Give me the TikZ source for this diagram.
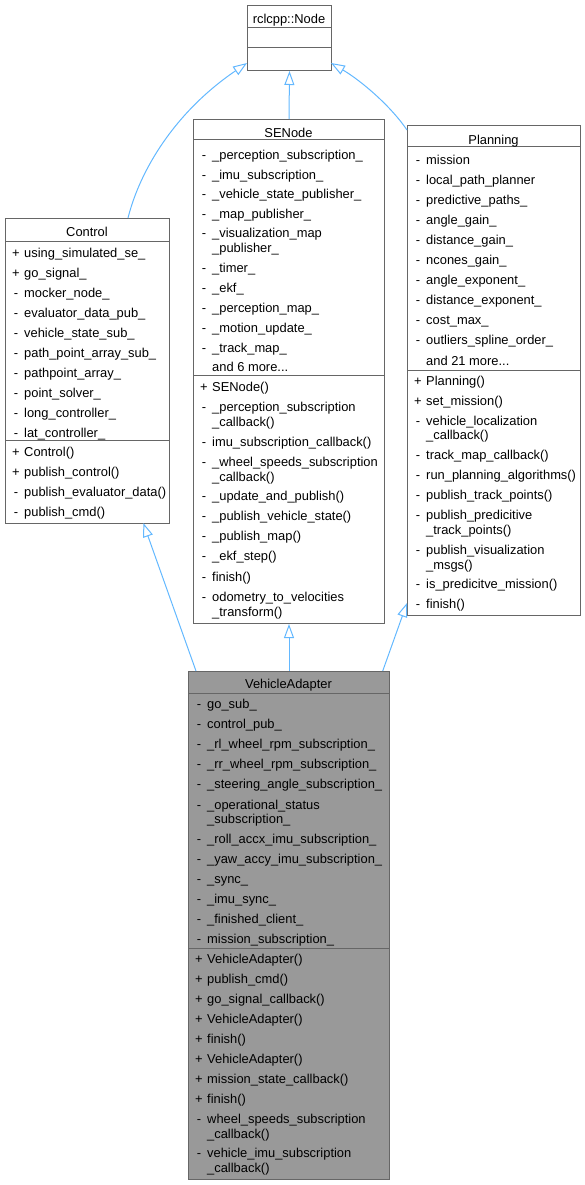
\documentclass[tikz,border=0pt]{standalone}
\usepackage{fontspec}
\setmainfont{Liberation Sans}
\usetikzlibrary{arrows.meta}
\definecolor{edgeblue}{HTML}{63B8FF}
\definecolor{boxgray}{HTML}{666666}
\definecolor{vafill}{HTML}{999999}
\newcommand{\tdots}{...}
\tikzset{
  classbox/.style={draw=boxgray, line width=1pt, inner sep=0pt, anchor=north west},
  sepline/.style={draw=boxgray, line width=1pt},
  mtxt/.style={inner sep=0pt, anchor=base},
  rtxt/.style={inner sep=0pt, anchor=base west},
  ttl/.style={inner sep=0pt, anchor=base},
  inherit/.style={draw=edgeblue, line width=1pt, -{Triangle[length=14pt,width=10pt,fill=white]}}
}
\newcommand{\classrows}[3]{%
  \foreach \yy/\mm/\rt [count=\i] in {#3} {
    \node[mtxt] (#1m\i) at (#2+11,\yy+4.5) {\mm};
    \node[rtxt] (#1t\i) at (#2+19,\yy+4.5) {\rt};
  }}
\begin{document}
\begin{tikzpicture}[x=1pt,y=-1pt,font=\fontsize{12.9}{15}\selectfont]
\useasboundingbox (0,0) rectangle (585,1185);

% rclcpp::Node
\node[classbox, minimum width=84pt, minimum height=65pt] (rclcpp) at (247,5) {};
\draw[sepline] (247,28) -- (331,28);
\draw[sepline] (247,48) -- (331,48);
\node[ttl] (rclcppT) at (289,19+4.5) {rclcpp::Node};

% Control
\node[classbox, minimum width=164pt, minimum height=305pt] (control) at (5,218) {};
\draw[sepline] (5,241) -- (169,241);
\draw[sepline] (5,440) -- (169,440);
\node[ttl] (controlT) at (87,231.7+4.5) {Control};
\classrows{ctl}{5}{252.7/+/using\_simulated\_se\_, 272.7/+/go\_signal\_, 292.7/-/mocker\_node\_,
 312.7/-/evaluator\_data\_pub\_, 332.7/-/vehicle\_state\_sub\_, 352.7/-/path\_point\_array\_sub\_,
 372.7/-/pathpoint\_array\_, 392.7/-/point\_solver\_, 412.7/-/long\_controller\_, 432.7/-/lat\_controller\_,
 451.7/+/Control(), 471.7/+/publish\_control(), 491.7/-/publish\_evaluator\_data(), 511.7/-/publish\_cmd()}

% SENode
\node[classbox, minimum width=191pt, minimum height=504pt] (senode) at (193,119) {};
\draw[sepline] (193,140) -- (384,140);
\draw[sepline] (193,375) -- (384,375);
\node[ttl] (senodeT) at (288.5,133.3+4.5) {SENode};
\classrows{sen}{193}{155/-/\_perception\_subscription\_, 175/-/\_imu\_subscription\_,
 194.5/-/\_vehicle\_state\_publisher\_, 214/-/\_map\_publisher\_, 233/-/\_visualization\_map,
 247.5/{}/\_publisher\_, 268/-/\_timer\_, 288/-/\_ekf\_, 308/-/\_perception\_map\_,
 328/-/\_motion\_update\_, 348/-/\_track\_map\_, 367.3/{}/and 6 more\tdots,
 386.7/+/SENode(), 406.7/-/\_perception\_subscription, 421.7/{}/\_callback(),
 441.7/-/imu\_subscription\_callback(), 461.7/-/\_wheel\_speeds\_subscription, 476.7/{}/\_callback(),
 496.3/-/\_update\_and\_publish(), 516/-/\_publish\_vehicle\_state(), 536/-/\_publish\_map(),
 556/-/\_ekf\_step(), 576.7/-/finish(), 596.7/-/odometry\_to\_velocities, 611.7/{}/\_transform()}

% Planning
\node[classbox, minimum width=173pt, minimum height=490pt] (planning) at (407,125) {};
\draw[sepline] (407,147) -- (580,147);
\draw[sepline] (407,370) -- (580,370);
\node[ttl] (planningT) at (493.5,140+4.5) {Planning};
\classrows{pln}{407}{160/-/mission, 180/-/local\_path\_planner, 200/-/predictive\_paths\_,
 220/-/angle\_gain\_, 240/-/distance\_gain\_, 260/-/ncones\_gain\_, 280/-/angle\_exponent\_,
 300/-/distance\_exponent\_, 320/-/cost\_max\_, 340/-/outliers\_spline\_order\_, 360.7/{}/and 21 more\tdots,
 380.7/+/Planning(), 400.7/+/set\_mission(), 420.7/-/vehicle\_localization, 435/{}/\_callback(),
 455/-/track\_map\_callback(), 475/-/run\_planning\_algorithms(), 495/-/publish\_track\_points(),
 515/-/publish\_predicitive, 530/{}/\_track\_points(), 550/-/publish\_visualization, 564.5/{}/\_msgs(),
 584/-/is\_predicitve\_mission(), 604/-/finish()}

% VehicleAdapter
\node[classbox, fill=vafill, minimum width=201pt, minimum height=508pt] (va) at (188,671) {};
\draw[sepline] (188,693) -- (389,693);
\draw[sepline] (188,948) -- (389,948);
\node[ttl] (vaT) at (288.5,684.3+4.5) {VehicleAdapter};
\classrows{vad}{188}{704.3/-/go\_sub\_, 724.3/-/control\_pub\_, 744.3/-/\_rl\_wheel\_rpm\_subscription\_,
 764.3/-/\_rr\_wheel\_rpm\_subscription\_, 784.3/-/\_steering\_angle\_subscription\_,
 804.5/-/\_operational\_status, 819.3/{}/\_subscription\_, 839.3/-/\_roll\_accx\_imu\_subscription\_,
 859.3/-/\_yaw\_accy\_imu\_subscription\_, 879.3/-/\_sync\_, 899.3/-/\_imu\_sync\_,
 919.3/-/\_finished\_client\_, 939/-/mission\_subscription\_,
 959/+/VehicleAdapter(), 979/+/publish\_cmd(), 999/+/go\_signal\_callback(), 1019/+/VehicleAdapter(),
 1039/+/finish(), 1059/+/VehicleAdapter(), 1079/+/mission\_state\_callback(), 1099/+/finish(),
 1119/-/wheel\_speeds\_subscription, 1133.5/{}/\_callback(), 1153.3/-/vehicle\_imu\_subscription,
 1168.3/{}/\_callback()}

% connector end points
\coordinate (ctlTop) at (128,218);
\coordinate (nodeL) at (247,63);
\coordinate (nodeR) at (331,63);
\coordinate (plnL) at (407,130);
\coordinate (vaL) at (196,671);
\coordinate (vaR) at (382.7,671);
\coordinate (ctlBot) at (143.3,523);
\coordinate (plnBot) at (407,603);

% inheritance
\draw[inherit] (ctlTop) .. controls (140,170) and (175,112) .. (nodeL);
\draw[inherit] (senode.north) -- (rclcpp.south);
\draw[inherit] (plnL) .. controls (390,105) and (360,80) .. (nodeR);
\draw[inherit] (vaL) -- (ctlBot);
\draw[inherit] (va.north) -- (senode.south);
\draw[inherit] (vaR) -- (plnBot);
\end{tikzpicture}
\end{document}
